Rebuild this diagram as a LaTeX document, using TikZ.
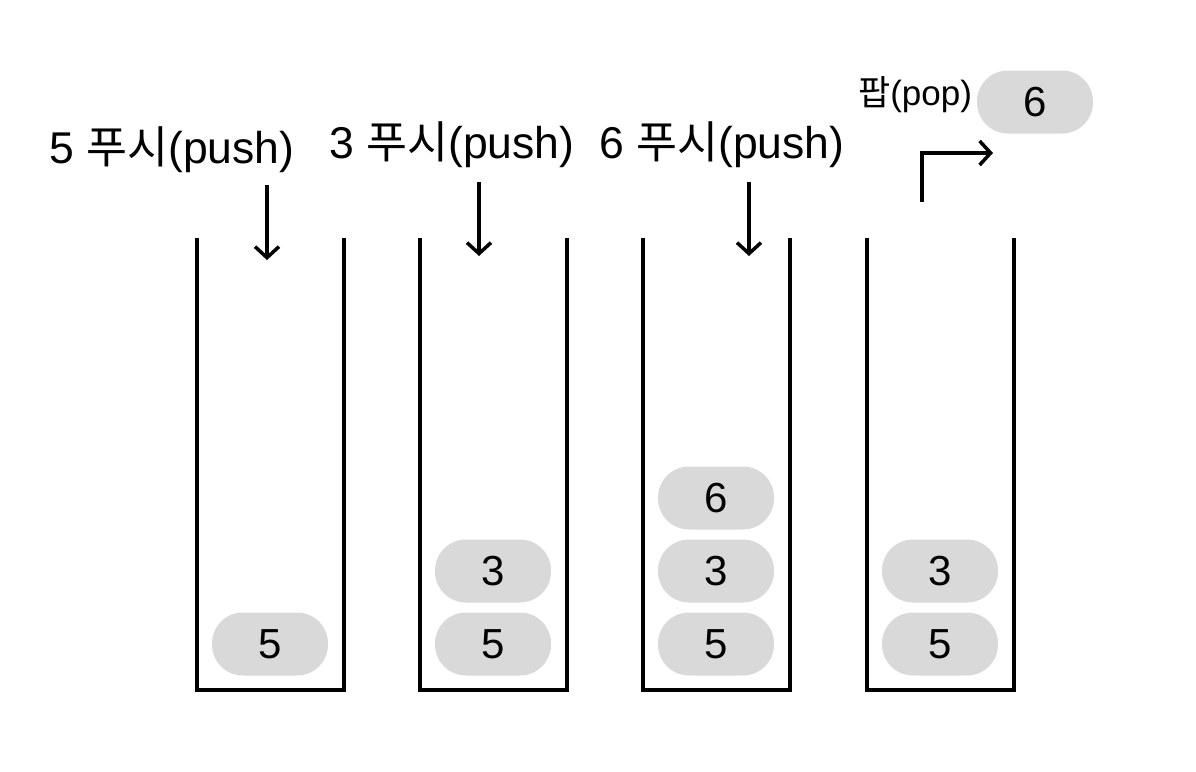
\documentclass[tikz,border=0pt]{standalone}
\usepackage{fontspec}
\setmainfont{Liberation Sans}
\newfontfamily\kr{Noto Sans CJK KR}
\usetikzlibrary{arrows.meta}
\begin{document}
\begin{tikzpicture}[x=1pt,y=-1pt,
  wall/.style={line width=3.5pt},
  pill/.style={fill=black!15,rounded corners=31pt,minimum width=116pt,minimum height=63pt,inner sep=0pt,font=\fontsize{42}{46}\selectfont},
  arr/.style={line width=3.5pt,-{Straight Barb[length=11pt,width=24pt,line width=3.5pt]}},
  lbl/.style={font=\fontsize{44.5}{48}\selectfont,inner sep=0pt}]
\useasboundingbox (0,0) rectangle (1196,771);
% stacks
\foreach \i/\l in {1/197,2/420,3/643,4/867}{
  \draw[wall] (\l,238) -- (\l,690) -- (\l+147,690) -- (\l+147,238);
}
% pills
\node[pill] (s1a) at (270,644) {5};
\node[pill] (s2a) at (493,644) {5};
\node[pill] (s2b) at (493,571) {3};
\node[pill] (s3a) at (716,644) {5};
\node[pill] (s3b) at (716,571) {3};
\node[pill] (s3c) at (716,498) {6};
\node[pill] (s4a) at (940,644) {5};
\node[pill] (s4b) at (940,571) {3};
\node[pill] (pop) at (1035,102) {6};
% labels
\node[lbl] (l1) at (172,150) {5 {\kr 푸시}(push)};
\node[lbl] (l2) at (452,145) {3 {\kr 푸시}(push)};
\node[lbl] (l3) at (722,145) {6 {\kr 푸시}(push)};
\node[lbl,font=\fontsize{35}{38}\selectfont] (l4) at (915,95) {{\kr 팝}(pop)};
% arrows
\coordinate (a1s) at (267,185); \coordinate (a1e) at (267,260);
\coordinate (a2s) at (479,182); \coordinate (a2e) at (479,256);
\coordinate (a3s) at (749,182); \coordinate (a3e) at (749,256);
\draw[arr] (a1s) -- (a1e);
\draw[arr] (a2s) -- (a2e);
\draw[arr] (a3s) -- (a3e);
\coordinate (ps) at (922,202); \coordinate (pc) at (922,153); \coordinate (pe) at (993,153);
\draw[arr] (ps) -- (pc) -- (pe);
\end{tikzpicture}
\end{document}
